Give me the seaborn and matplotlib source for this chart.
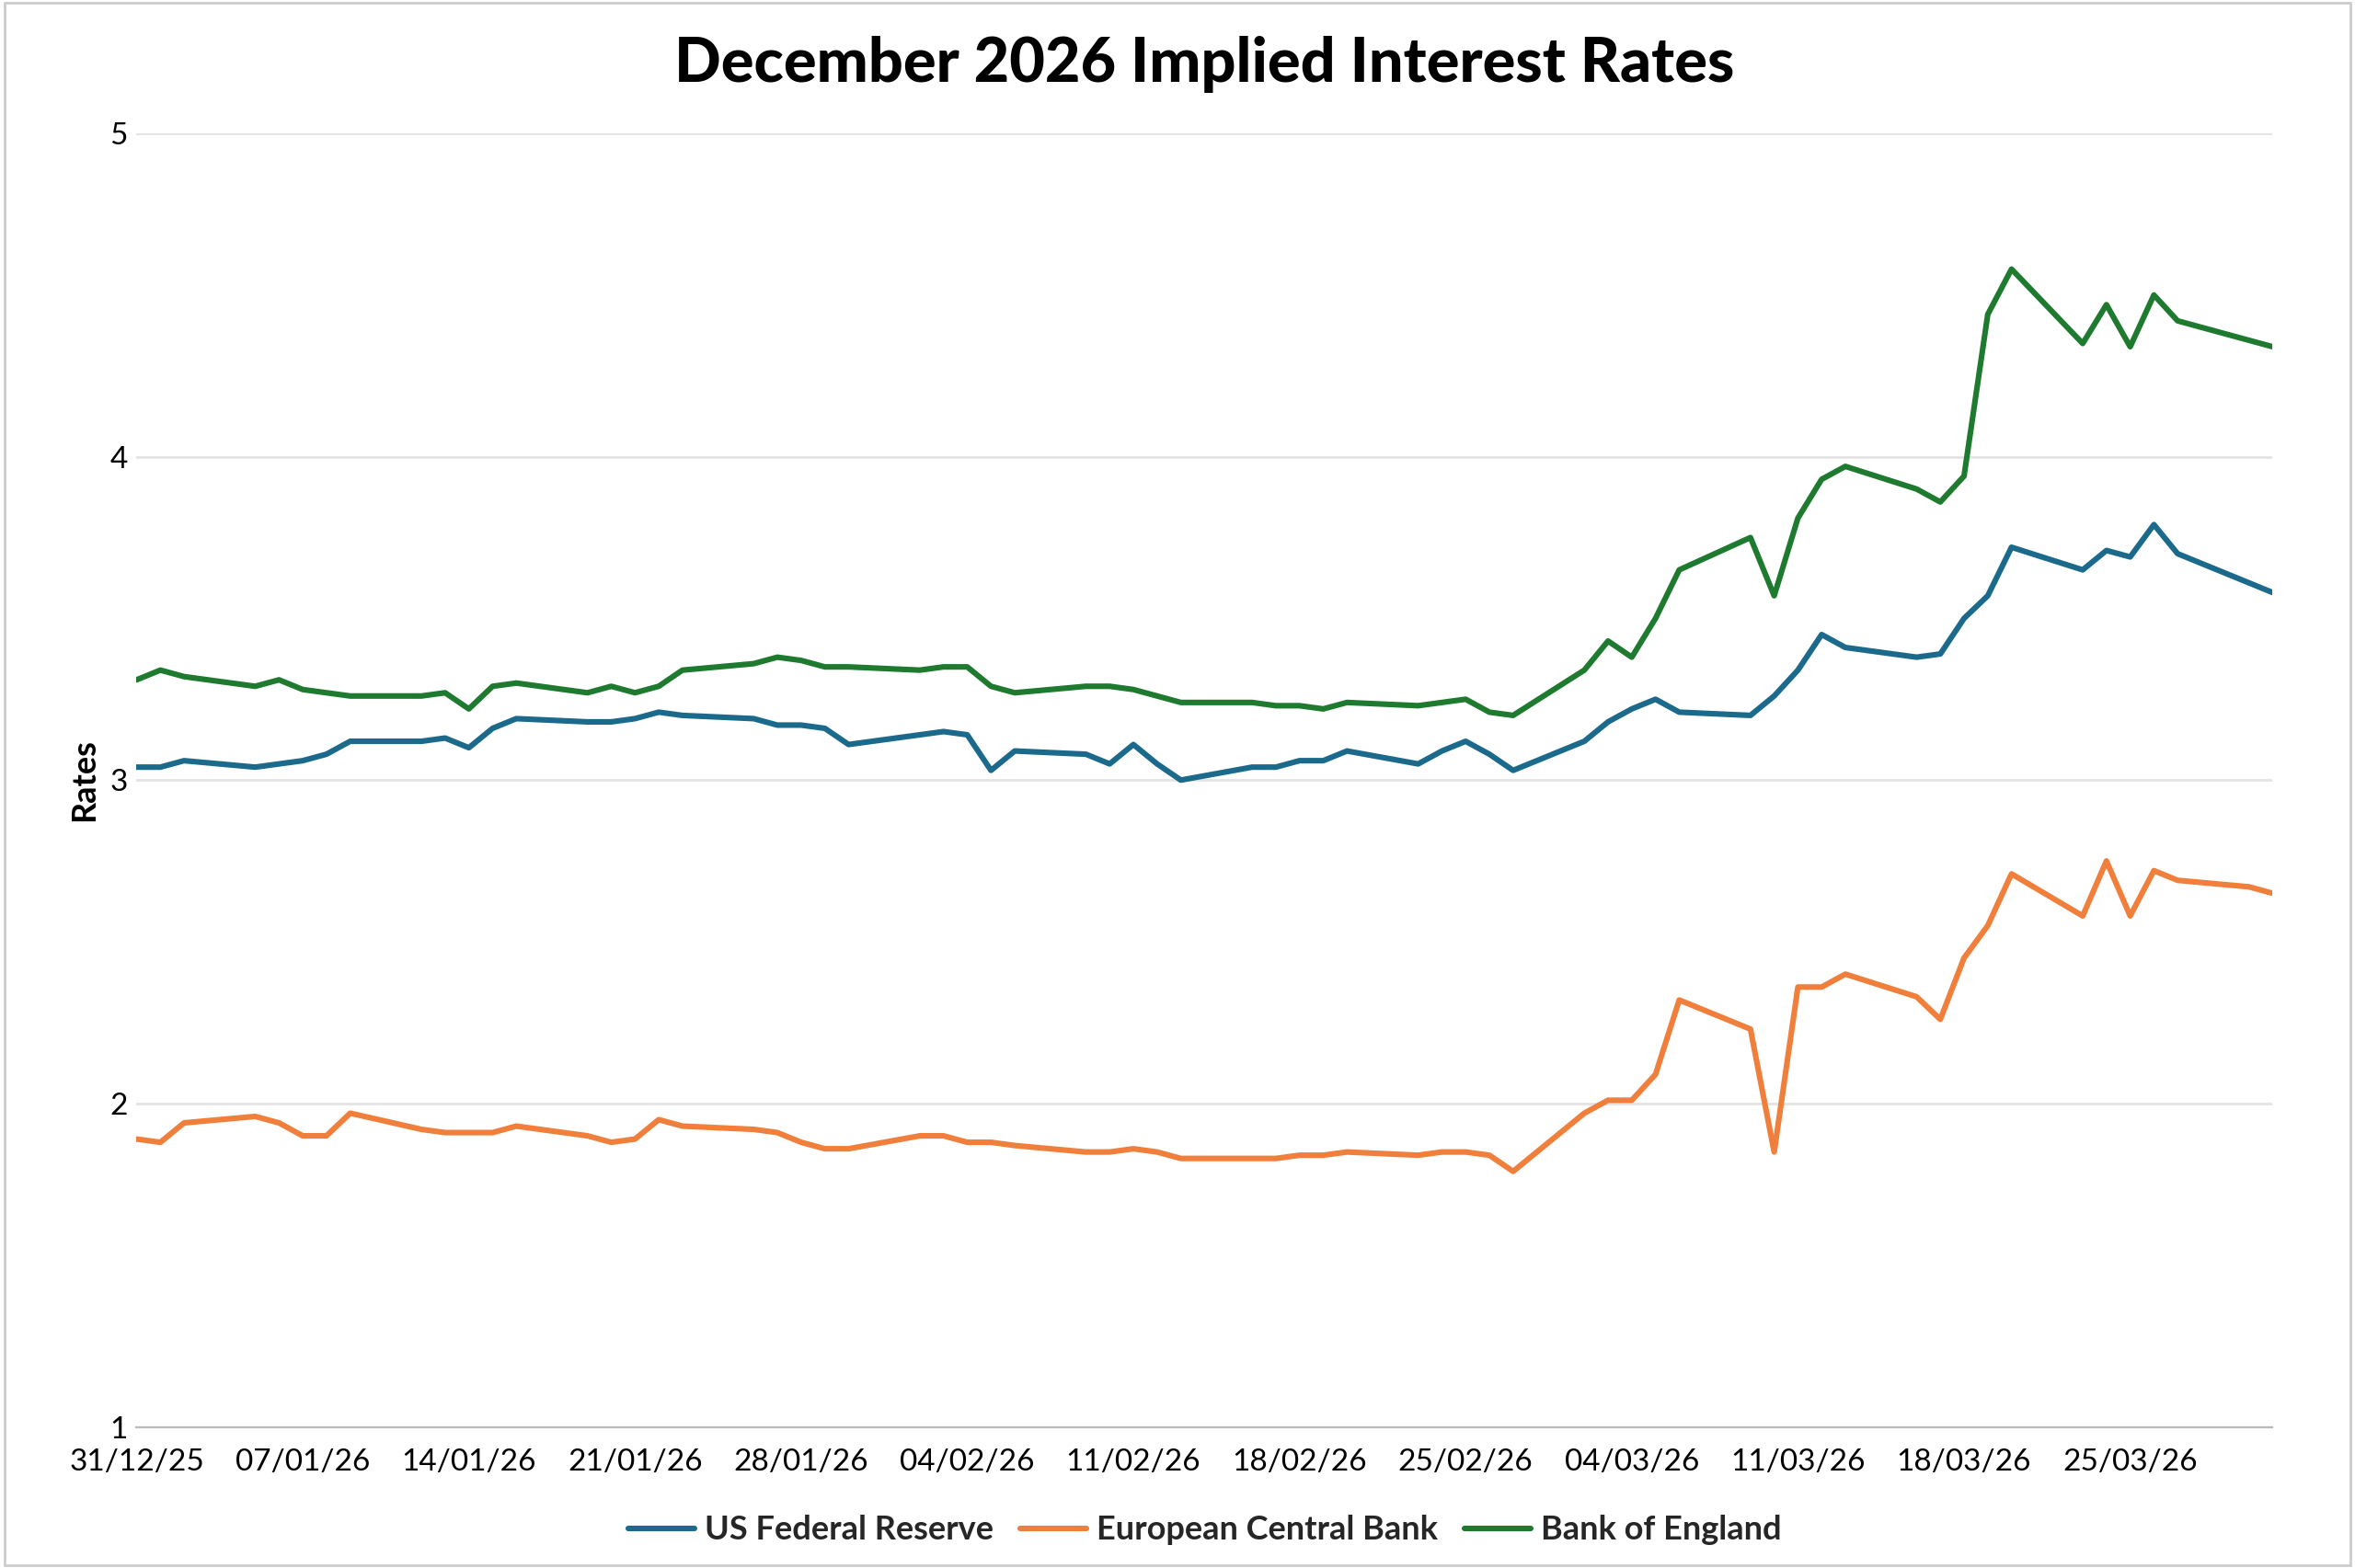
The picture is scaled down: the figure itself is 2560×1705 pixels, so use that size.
import pandas as pd
import matplotlib.pyplot as plt
import matplotlib.dates as mdates
import seaborn as sns

sns.set_style("white")
plt.rcParams["font.family"] = ["Lato", "DejaVu Sans"]

dates = pd.bdate_range("2025-12-31", "2026-03-31")

fed = [3.04, 3.04, 3.06,
       3.04, 3.05, 3.06, 3.08, 3.12,
       3.12, 3.13, 3.10, 3.16, 3.19,
       3.18, 3.18, 3.19, 3.21, 3.20,
       3.19, 3.17, 3.17, 3.16, 3.11,
       3.14, 3.15, 3.14, 3.03, 3.09,
       3.08, 3.05, 3.11, 3.05, 3.00,
       3.04, 3.04, 3.06, 3.06, 3.09,
       3.05, 3.09, 3.12, 3.08, 3.03,
       3.12, 3.18, 3.22, 3.25, 3.21,
       3.20, 3.26, 3.34, 3.45, 3.41,
       3.38, 3.39, 3.50, 3.57, 3.72,
       3.65, 3.71, 3.69, 3.79, 3.70,
       3.61, 3.58]
ecb = [1.89, 1.88, 1.94,
       1.96, 1.94, 1.90, 1.90, 1.97,
       1.92, 1.91, 1.91, 1.91, 1.93,
       1.90, 1.88, 1.89, 1.95, 1.93,
       1.92, 1.91, 1.88, 1.86, 1.86,
       1.90, 1.90, 1.88, 1.88, 1.87,
       1.85, 1.85, 1.86, 1.85, 1.83,
       1.83, 1.83, 1.84, 1.84, 1.85,
       1.84, 1.85, 1.85, 1.84, 1.79,
       1.97, 2.01, 2.01, 2.09, 2.32,
       2.23, 1.85, 2.36, 2.36, 2.40,
       2.33, 2.26, 2.45, 2.55, 2.71,
       2.58, 2.75, 2.58, 2.72, 2.69,
       2.67, 2.65]
boe = [3.31, 3.34, 3.32,
       3.29, 3.31, 3.28, 3.27, 3.26,
       3.26, 3.27, 3.22, 3.29, 3.30,
       3.27, 3.29, 3.27, 3.29, 3.34,
       3.36, 3.38, 3.37, 3.35, 3.35,
       3.34, 3.35, 3.35, 3.29, 3.27,
       3.29, 3.29, 3.28, 3.26, 3.24,
       3.24, 3.23, 3.23, 3.22, 3.24,
       3.23, 3.24, 3.25, 3.21, 3.20,
       3.34, 3.43, 3.38, 3.50, 3.65,
       3.75, 3.57, 3.81, 3.93, 3.97,
       3.90, 3.86, 3.94, 4.44, 4.58,
       4.35, 4.47, 4.34, 4.50, 4.42,
       4.36, 4.34]

series_names = ["US Federal Reserve", "European Central Bank", "Bank of England"]
colors = ["#1B6A8C", "#F07F3C", "#1E7A2E"]

df = pd.DataFrame({"Date": dates, series_names[0]: fed,
                   series_names[1]: ecb, series_names[2]: boe})
long = df.melt(id_vars="Date", var_name="Bank", value_name="Rate")

fig, ax = plt.subplots(figsize=(12.8, 8.525), dpi=200)
sns.lineplot(data=long, x="Date", y="Rate", hue="Bank", hue_order=series_names,
             palette=colors, linewidth=2.2, ax=ax)

ax.set_title("December 2026 Implied Interest Rates", fontsize=24, fontweight="black",
             color="black", pad=20)
ax.set_ylabel("Rates", fontsize=13, fontweight="bold", color="black")
ax.set_xlabel("")
ax.set_ylim(1, 5)
ax.set_yticks([1, 2, 3, 4, 5])
ax.set_xlim(dates[0], dates[-1])
ticks = pd.date_range(dates[0], dates[-1], freq="7D")
ax.set_xticks(ticks)
ax.xaxis.set_major_formatter(mdates.DateFormatter("%d/%m/%y"))
ax.tick_params(axis="both", labelsize=12, length=0, labelcolor="black")
ax.tick_params(axis="x", length=5, color="#bbbbbb")
ax.grid(axis="y", color="#e3e3e3", linewidth=1)
for s in ["left", "right", "top"]:
    ax.spines[s].set_visible(False)
ax.spines["bottom"].set_color("#bbbbbb")

ax.legend(loc="upper center", bbox_to_anchor=(0.5, -0.045), ncol=3, frameon=False,
          prop={"size": 13, "weight": "bold"}, handlelength=2, columnspacing=0.8,
          handletextpad=0.3)

fig.patches.append(plt.Rectangle((0.002, 0.002), 0.996, 0.996, transform=fig.transFigure,
                                 fill=False, edgecolor="#cccccc", linewidth=1))
plt.subplots_adjust(left=0.058, right=0.965, top=0.915, bottom=0.09)
plt.savefig("out.png", dpi=200)
